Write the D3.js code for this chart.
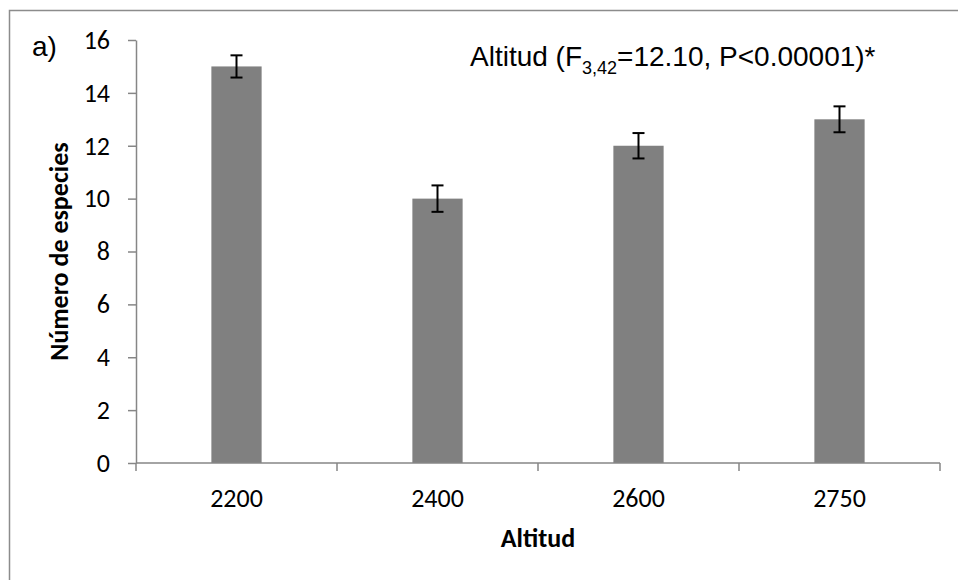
<!DOCTYPE html>
<html>
<head>
<meta charset="utf-8">
<script src="https://cdn.jsdelivr.net/npm/d3@7/dist/d3.min.js"></script>
<style>
  body { margin: 0; background: #fff; }
  svg { display: block; }
</style>
</head>
<body>
<script>
const categories = ["2200", "2400", "2600", "2750"];
const values = [15, 10, 12, 13];
const errors = [0.42, 0.5, 0.48, 0.49];
const yTicks = [0, 2, 4, 6, 8, 10, 12, 14, 16];

const width = 958, height = 580;
const margin = { left: 136, right: 18, top: 40, bottom: 117 };
const calibri = "Carlito, Lato, 'Open Sans', sans-serif";
const arial = "'Liberation Sans', Arial, sans-serif";

const svg = d3.select("body").append("svg")
  .attr("width", width)
  .attr("height", height);

// outer frame (right and bottom edges fall outside the picture)
svg.append("rect")
  .attr("x", 9.5).attr("y", 10.5)
  .attr("width", 960).attr("height", 580)
  .attr("fill", "none")
  .attr("stroke", "#8c8c8c")
  .attr("stroke-width", 1.5);

const x = d3.scaleBand()
  .domain(categories)
  .range([margin.left, width - margin.right])
  .paddingInner(0.75)
  .paddingOuter(0.375);

const xEdge = d3.scaleBand()
  .domain(categories)
  .range([margin.left, width - margin.right])
  .padding(0);

const y = d3.scaleLinear()
  .domain([0, 16])
  .range([height - margin.bottom, margin.top]);

// bars
svg.selectAll("rect.bar")
  .data(values)
  .enter()
  .append("rect")
  .attr("class", "bar")
  .attr("x", (d, i) => x(categories[i]))
  .attr("y", d => y(d))
  .attr("width", x.bandwidth())
  .attr("height", d => y(0) - y(d))
  .attr("fill", "#808080");

// y axis
const yAxis = svg.append("g")
  .attr("transform", `translate(${margin.left},0)`)
  .call(d3.axisLeft(y).tickValues(yTicks).tickSize(8).tickPadding(18).tickSizeOuter(0));
yAxis.select(".domain").attr("stroke", "#868686").attr("stroke-width", 1.5);
yAxis.selectAll(".tick line").attr("stroke", "#868686").attr("stroke-width", 1.5);
yAxis.selectAll(".tick text")
  .attr("fill", "#000")
  .style("font-family", calibri)
  .style("font-size", "26px");

// x axis, ticks at band edges
const xAxis = svg.append("g")
  .attr("transform", `translate(0,${y(0)})`);
xAxis.append("line")
  .attr("x1", margin.left).attr("x2", width - margin.right)
  .attr("stroke", "#868686").attr("stroke-width", 1.5);
const edges = categories.map(c => xEdge(c)).concat([xEdge.range()[1]]);
xAxis.selectAll("line.tick")
  .data(edges)
  .enter()
  .append("line")
  .attr("class", "tick")
  .attr("x1", d => d).attr("x2", d => d)
  .attr("y1", 0).attr("y2", 8)
  .attr("stroke", "#868686").attr("stroke-width", 1.5);
xAxis.selectAll("text")
  .data(categories)
  .enter()
  .append("text")
  .attr("x", d => x(d) + x.bandwidth() / 2)
  .attr("y", 44)
  .attr("text-anchor", "middle")
  .style("font-family", calibri)
  .style("font-size", "26px")
  .text(d => d);

// error bars
const eb = svg.selectAll("g.err")
  .data(values)
  .enter()
  .append("g")
  .attr("class", "err")
  .attr("stroke", "#000")
  .attr("stroke-width", 2);
eb.append("line")
  .attr("x1", (d, i) => x(categories[i]) + x.bandwidth() / 2)
  .attr("x2", (d, i) => x(categories[i]) + x.bandwidth() / 2)
  .attr("y1", (d, i) => y(d + errors[i]))
  .attr("y2", (d, i) => y(d - errors[i]));
[1, -1].forEach(s => {
  eb.append("line")
    .attr("x1", (d, i) => x(categories[i]) + x.bandwidth() / 2 - 6)
    .attr("x2", (d, i) => x(categories[i]) + x.bandwidth() / 2 + 6)
    .attr("y1", (d, i) => y(d + s * errors[i]))
    .attr("y2", (d, i) => y(d + s * errors[i]));
});

// axis titles
svg.append("text")
  .attr("x", (margin.left + width - margin.right) / 2)
  .attr("y", 547)
  .attr("text-anchor", "middle")
  .style("font-family", calibri)
  .style("font-size", "26px")
  .style("font-weight", "bold")
  .text("Altitud");

svg.append("text")
  .attr("transform", `translate(68,${(y(0) + y(16)) / 2}) rotate(-90)`)
  .attr("text-anchor", "middle")
  .style("font-family", calibri)
  .style("font-size", "26px")
  .style("font-weight", "bold")
  .text("Número de especies");

// panel label
svg.append("text")
  .attr("x", 32).attr("y", 56)
  .style("font-family", arial)
  .style("font-size", "28px")
  .text("a)");

// annotation
const note = svg.append("text")
  .attr("x", 470).attr("y", 66)
  .style("font-family", arial)
  .style("font-size", "28px");
note.append("tspan").text("Altitud (F");
note.append("tspan").attr("dy", 8).style("font-size", "18px").text("3,42");
note.append("tspan").attr("dy", -8).text("=12.10, P<0.00001)*");
</script>
</body>
</html>
